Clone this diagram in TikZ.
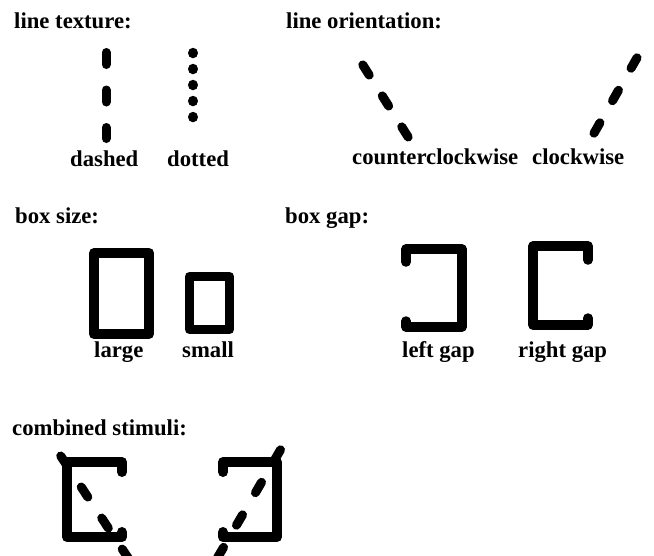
\documentclass[tikz,border=0pt]{standalone}
\usepackage{fontspec}
\setmainfont{Liberation Serif}
\begin{document}
\begin{tikzpicture}[x=1pt,y=-1pt,
  txt/.style={anchor=base west,inner sep=0pt,font=\fontsize{22.7}{24}\selectfont\bfseries},
  stim/.style={line width=9pt,line cap=round},
  dashstim/.style={stim,dash pattern=on 12pt off #1},
  dotstim/.style={line width=10.5pt,line cap=round,dash pattern=on 0.01pt off 16pt},
  boxline/.style={line width=#1,line cap=round,line join=round},
  boxline/.default=10pt]
\clip (0,0) rectangle (654,555);

% headings
\node[txt] (h1) at (14,28) {line texture:};
\node[txt] (h2) at (286,28) {line orientation:};
\node[txt] (h3) at (15,223) {box size:};
\node[txt] (h4) at (285,223) {box gap:};
\node[txt] (h5) at (12,435) {combined stimuli:};

% line texture
\coordinate (da1) at (106,52.5);
\coordinate (da2) at (106,138.5);
\draw[dashstim=25.5pt] (da1) -- (da2);
\coordinate (do1) at (193,53);
\coordinate (do2) at (193,133.02);
\draw[dotstim] (do1) -- (do2);
\node[txt] (ldashed) at (70,166) {dashed};
\node[txt] (ldotted) at (167,166) {dotted};

% line orientation
\coordinate (cc1) at (362.8,64.9);
\coordinate (cc2) at (408.2,137.1);
\draw[dashstim=24.6pt] (cc1) -- (cc2);
\coordinate (cw1) at (637,57.8);
\coordinate (cw2) at (594,133.2);
\draw[dashstim=25.4pt] (cw1) -- (cw2);
\node[txt] (lccw) at (352,164) {counterclockwise};
\node[txt] (lcw) at (532,164) {clockwise};

% box size
\draw[boxline] (94,253) rectangle (149,334);
\draw[boxline=9pt] (189.5,276.5) rectangle (229.5,329.5);
\node[txt] (llarge) at (94,357) {large};
\node[txt] (lsmall) at (182,357) {small};

% box gap
\draw[boxline=9.5pt] (406,262) -- (406,249) -- (462,249) -- (462,327) -- (406,327) -- (406,321);
\draw[boxline=9.5pt] (588,260) -- (588,246) -- (533,246) -- (533,325) -- (588,325) -- (588,318);
\node[txt] (lleft) at (402,357) {left gap};
\node[txt] (lright) at (518,357) {right gap};

% combined stimuli
\draw[boxline] (122,472) -- (122,462) -- (67,462) -- (67,537) -- (122,537) -- (122,532);
\coordinate (m1) at (60.7,456);
\coordinate (m2) at (128.8,559);
\draw[dashstim=25.2pt] (m1) -- (m2);
\draw[boxline] (223,472) -- (223,462) -- (277,462) -- (277,537) -- (223,537) -- (223,532);
\coordinate (n1) at (280.5,449.8);
\coordinate (n2) at (217.5,557.7);
\draw[dashstim=25.65pt] (n1) -- (n2);
\end{tikzpicture}
\end{document}
